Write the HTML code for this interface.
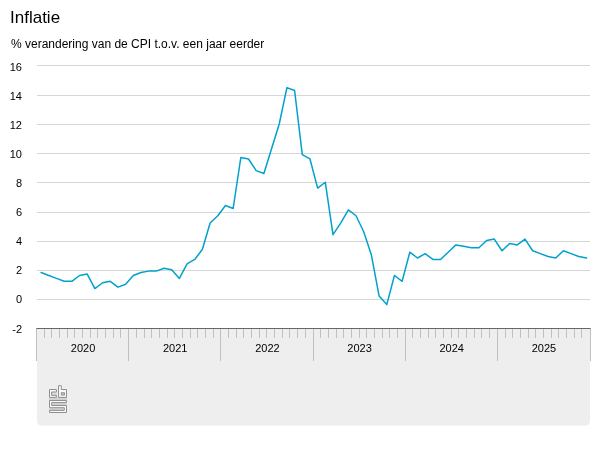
<!DOCTYPE html>
<html><head><meta charset="utf-8"><title>Inflatie</title>
<style>
html,body{margin:0;padding:0;background:#fff;}
body{width:600px;height:450px;overflow:hidden;font-family:"Liberation Sans",sans-serif;}
svg{display:block;will-change:transform;}
text{font-family:"Liberation Sans",sans-serif;fill:#000;}
</style></head><body>
<svg width="600" height="450" viewBox="0 0 600 450">
<path d="M37 329H590V420.8a5 5 0 0 1 -5 5H42a5 5 0 0 1 -5 -5Z" fill="#eeeeee"/>
<rect x="37" y="65" width="553" height="1" fill="#d6d6d6"/>
<rect x="37" y="95" width="553" height="1" fill="#d6d6d6"/>
<rect x="37" y="124" width="553" height="1" fill="#d6d6d6"/>
<rect x="37" y="153" width="553" height="1" fill="#d6d6d6"/>
<rect x="37" y="182" width="553" height="1" fill="#d6d6d6"/>
<rect x="37" y="212" width="553" height="1" fill="#d6d6d6"/>
<rect x="37" y="241" width="553" height="1" fill="#d6d6d6"/>
<rect x="37" y="270" width="553" height="1" fill="#d6d6d6"/>
<rect x="37" y="299" width="553" height="1" fill="#d6d6d6"/>
<rect x="36" y="328" width="1" height="33" fill="#c0c0c0"/>
<rect x="44" y="329" width="1" height="9" fill="#c0c0c0"/>
<rect x="51" y="329" width="1" height="9" fill="#c0c0c0"/>
<rect x="59" y="329" width="1" height="9" fill="#c0c0c0"/>
<rect x="67" y="329" width="1" height="9" fill="#c0c0c0"/>
<rect x="74" y="329" width="1" height="9" fill="#c0c0c0"/>
<rect x="82" y="329" width="1" height="9" fill="#c0c0c0"/>
<rect x="90" y="329" width="1" height="9" fill="#c0c0c0"/>
<rect x="97" y="329" width="1" height="9" fill="#c0c0c0"/>
<rect x="105" y="329" width="1" height="9" fill="#c0c0c0"/>
<rect x="113" y="329" width="1" height="9" fill="#c0c0c0"/>
<rect x="120" y="329" width="1" height="9" fill="#c0c0c0"/>
<rect x="128" y="328" width="1" height="33" fill="#c0c0c0"/>
<rect x="136" y="329" width="1" height="9" fill="#c0c0c0"/>
<rect x="144" y="329" width="1" height="9" fill="#c0c0c0"/>
<rect x="151" y="329" width="1" height="9" fill="#c0c0c0"/>
<rect x="159" y="329" width="1" height="9" fill="#c0c0c0"/>
<rect x="167" y="329" width="1" height="9" fill="#c0c0c0"/>
<rect x="174" y="329" width="1" height="9" fill="#c0c0c0"/>
<rect x="182" y="329" width="1" height="9" fill="#c0c0c0"/>
<rect x="190" y="329" width="1" height="9" fill="#c0c0c0"/>
<rect x="197" y="329" width="1" height="9" fill="#c0c0c0"/>
<rect x="205" y="329" width="1" height="9" fill="#c0c0c0"/>
<rect x="213" y="329" width="1" height="9" fill="#c0c0c0"/>
<rect x="220" y="328" width="1" height="33" fill="#c0c0c0"/>
<rect x="228" y="329" width="1" height="9" fill="#c0c0c0"/>
<rect x="236" y="329" width="1" height="9" fill="#c0c0c0"/>
<rect x="243" y="329" width="1" height="9" fill="#c0c0c0"/>
<rect x="251" y="329" width="1" height="9" fill="#c0c0c0"/>
<rect x="259" y="329" width="1" height="9" fill="#c0c0c0"/>
<rect x="266" y="329" width="1" height="9" fill="#c0c0c0"/>
<rect x="274" y="329" width="1" height="9" fill="#c0c0c0"/>
<rect x="282" y="329" width="1" height="9" fill="#c0c0c0"/>
<rect x="289" y="329" width="1" height="9" fill="#c0c0c0"/>
<rect x="297" y="329" width="1" height="9" fill="#c0c0c0"/>
<rect x="305" y="329" width="1" height="9" fill="#c0c0c0"/>
<rect x="313" y="328" width="1" height="33" fill="#c0c0c0"/>
<rect x="320" y="329" width="1" height="9" fill="#c0c0c0"/>
<rect x="328" y="329" width="1" height="9" fill="#c0c0c0"/>
<rect x="336" y="329" width="1" height="9" fill="#c0c0c0"/>
<rect x="343" y="329" width="1" height="9" fill="#c0c0c0"/>
<rect x="351" y="329" width="1" height="9" fill="#c0c0c0"/>
<rect x="359" y="329" width="1" height="9" fill="#c0c0c0"/>
<rect x="366" y="329" width="1" height="9" fill="#c0c0c0"/>
<rect x="374" y="329" width="1" height="9" fill="#c0c0c0"/>
<rect x="382" y="329" width="1" height="9" fill="#c0c0c0"/>
<rect x="389" y="329" width="1" height="9" fill="#c0c0c0"/>
<rect x="397" y="329" width="1" height="9" fill="#c0c0c0"/>
<rect x="405" y="328" width="1" height="33" fill="#c0c0c0"/>
<rect x="412" y="329" width="1" height="9" fill="#c0c0c0"/>
<rect x="420" y="329" width="1" height="9" fill="#c0c0c0"/>
<rect x="428" y="329" width="1" height="9" fill="#c0c0c0"/>
<rect x="435" y="329" width="1" height="9" fill="#c0c0c0"/>
<rect x="443" y="329" width="1" height="9" fill="#c0c0c0"/>
<rect x="451" y="329" width="1" height="9" fill="#c0c0c0"/>
<rect x="458" y="329" width="1" height="9" fill="#c0c0c0"/>
<rect x="466" y="329" width="1" height="9" fill="#c0c0c0"/>
<rect x="474" y="329" width="1" height="9" fill="#c0c0c0"/>
<rect x="481" y="329" width="1" height="9" fill="#c0c0c0"/>
<rect x="489" y="329" width="1" height="9" fill="#c0c0c0"/>
<rect x="497" y="328" width="1" height="33" fill="#c0c0c0"/>
<rect x="505" y="329" width="1" height="9" fill="#c0c0c0"/>
<rect x="512" y="329" width="1" height="9" fill="#c0c0c0"/>
<rect x="520" y="329" width="1" height="9" fill="#c0c0c0"/>
<rect x="528" y="329" width="1" height="9" fill="#c0c0c0"/>
<rect x="535" y="329" width="1" height="9" fill="#c0c0c0"/>
<rect x="543" y="329" width="1" height="9" fill="#c0c0c0"/>
<rect x="551" y="329" width="1" height="9" fill="#c0c0c0"/>
<rect x="558" y="329" width="1" height="9" fill="#c0c0c0"/>
<rect x="566" y="329" width="1" height="9" fill="#c0c0c0"/>
<rect x="574" y="329" width="1" height="9" fill="#c0c0c0"/>
<rect x="581" y="329" width="1" height="9" fill="#c0c0c0"/>
<rect x="590" y="328" width="1" height="33" fill="#c0c0c0"/>
<rect x="36.5" y="328" width="554" height="1" fill="#666666"/>
<text x="22" y="71" font-size="11" text-anchor="end">16</text>
<text x="22" y="100" font-size="11" text-anchor="end">14</text>
<text x="22" y="129" font-size="11" text-anchor="end">12</text>
<text x="22" y="158" font-size="11" text-anchor="end">10</text>
<text x="22" y="187" font-size="11" text-anchor="end">8</text>
<text x="22" y="216" font-size="11" text-anchor="end">6</text>
<text x="22" y="245" font-size="11" text-anchor="end">4</text>
<text x="22" y="274" font-size="11" text-anchor="end">2</text>
<text x="22" y="303" font-size="11" text-anchor="end">0</text>
<text x="22" y="333" font-size="11" text-anchor="end">-2</text>
<text x="83.08" y="352" font-size="11" text-anchor="middle">2020</text>
<text x="175.25" y="352" font-size="11" text-anchor="middle">2021</text>
<text x="267.42" y="352" font-size="11" text-anchor="middle">2022</text>
<text x="359.58" y="352" font-size="11" text-anchor="middle">2023</text>
<text x="451.75" y="352" font-size="11" text-anchor="middle">2024</text>
<text x="543.92" y="352" font-size="11" text-anchor="middle">2025</text>
<polyline points="41.14,272.57 48.82,275.49 56.50,278.40 64.18,281.31 71.86,281.31 79.54,275.49 87.22,274.03 94.90,288.59 102.58,282.77 110.27,281.31 117.95,287.14 125.63,284.23 133.31,275.49 140.99,272.57 148.67,271.12 156.35,271.12 164.03,268.20 171.71,269.66 179.39,278.40 187.07,263.83 194.75,259.46 202.43,249.27 210.11,223.05 217.79,215.77 225.47,205.57 233.15,208.49 240.83,157.51 248.52,158.97 256.20,170.62 263.88,173.53 271.56,148.77 279.24,124.01 286.92,87.60 294.60,90.51 302.28,154.60 309.96,158.97 317.64,188.10 325.32,182.27 333.00,234.70 340.68,223.05 348.36,209.94 356.04,215.77 363.72,231.79 371.40,255.09 379.08,295.88 386.77,304.62 394.45,275.49 402.13,281.31 409.81,252.18 417.49,258.01 425.17,253.64 432.85,259.46 440.53,259.46 448.21,252.18 455.89,244.90 463.57,246.36 471.25,247.81 478.93,247.81 486.61,240.53 494.29,239.07 501.97,250.73 509.65,243.44 517.33,244.90 525.02,239.07 532.70,250.73 540.38,253.64 548.06,256.55 555.74,258.01 563.42,250.73 571.10,253.64 578.78,256.55 586.46,258.01" fill="none" stroke="#00a1cd" stroke-width="1.5" stroke-linejoin="round" stroke-linecap="round"/>
<text x="10" y="23" font-size="17">Inflatie</text>
<text x="11" y="48" font-size="12">% verandering van de CPI t.o.v. een jaar eerder</text>
<g>
<rect x="49" y="397.6" width="18" height="3" fill="#d2d2d2"/>
<rect x="51.7" y="402.6" width="14.8" height="3" fill="#d2d2d2"/>
<rect x="49.5" y="407.7" width="14.8" height="2.8" fill="#d2d2d2"/>
<rect x="51.6" y="392" width="5.2" height="3.4" fill="#dadada"/>
<rect x="61.3" y="392.7" width="3.2" height="2.4" fill="#c4c4c4"/>
<path d="M49.5 389.5H56.4V392H51.6V395.4H56.4V397.4H49.5ZM58.5 385.7H61.3V389.5H66.5V397.4H58.5ZM61.3 392.7H64.5V395.1H61.3ZM49.5 400.5H66.5V402.6H51.7V405.5H66.5V412.5H49.5V410.4H64.3V407.7H49.5Z" fill="#f8f8f8" fill-rule="evenodd" stroke="#909090" stroke-width="1" stroke-linejoin="miter"/>
</g>
</svg>
</body></html>
